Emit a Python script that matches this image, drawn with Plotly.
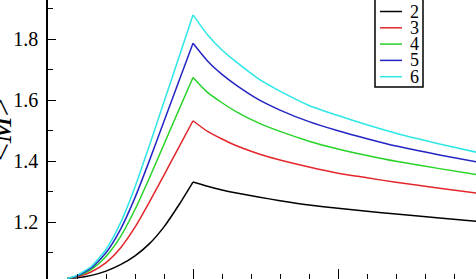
import plotly.graph_objects as go

# ---- data ----
series_names = ["2", "3", "4", "5", "6"]
series_colors = ["#000000", "#e3262b", "#27d327", "#2424c4", "#2ee6e6"]

x_rise = [0.135, 0.2, 0.3, 0.4, 0.5, 0.6, 0.7, 0.8, 0.9, 1.0]
rise_2 = [1.015, 1.017, 1.025, 1.039, 1.060, 1.089, 1.129, 1.184, 1.254, 1.331]
rise_3 = [1.015, 1.020, 1.037, 1.067, 1.115, 1.183, 1.266, 1.354, 1.443, 1.532]
rise_4 = [1.015, 1.022, 1.045, 1.087, 1.152, 1.241, 1.345, 1.455, 1.565, 1.674]
rise_5 = [1.015, 1.023, 1.050, 1.099, 1.176, 1.280, 1.402, 1.530, 1.658, 1.786]
rise_6 = [1.015, 1.025, 1.055, 1.110, 1.197, 1.315, 1.452, 1.594, 1.736, 1.879]

x_decay = [1.0, 1.1, 1.2, 1.3, 1.45, 1.6, 1.8, 2.0, 2.2, 2.4, 2.7, 3.0]
decay_2 = [1.331, 1.317, 1.305, 1.295, 1.282, 1.270, 1.256, 1.245, 1.235, 1.226, 1.213, 1.200]
decay_3 = [1.532, 1.497, 1.472, 1.450, 1.424, 1.403, 1.380, 1.360, 1.345, 1.330, 1.311, 1.292]
decay_4 = [1.674, 1.625, 1.591, 1.561, 1.525, 1.497, 1.465, 1.439, 1.418, 1.399, 1.375, 1.352]
decay_5 = [1.786, 1.728, 1.684, 1.648, 1.602, 1.567, 1.529, 1.499, 1.473, 1.449, 1.420, 1.393]
decay_6 = [1.879, 1.814, 1.764, 1.724, 1.670, 1.629, 1.582, 1.549, 1.519, 1.491, 1.456, 1.424]

rises = [rise_2, rise_3, rise_4, rise_5, rise_6]
decays = [decay_2, decay_3, decay_4, decay_5, decay_6]

y_tickvals = [1.2, 1.4, 1.6, 1.8]
y_ticktext = ["1.2", "1.4", "1.6", "1.8"]

# ---- layout constants (pixels) ----
W, H = 476, 279
ML = 48
PW = W - ML
FONT = "Liberation Serif"

fig = go.Figure()
for name, col, r, d in zip(series_names, series_colors, rises, decays):
    fig.add_trace(go.Scatter(x=x_rise, y=r, mode="lines", name=name,
                             line=dict(color=col, width=1.5, shape="spline", smoothing=0.6),
                             showlegend=False, hoverinfo="skip"))
    fig.add_trace(go.Scatter(x=x_decay, y=d, mode="lines", name=name,
                             line=dict(color=col, width=1.5, shape="spline", smoothing=0.6),
                             showlegend=False, hoverinfo="skip"))

def px_x(px):
    return (px - ML) / PW

def px_y(py):
    return 1 - py / H

# manual legend (box, samples, labels)
shapes = [dict(type="rect", xref="paper", yref="paper",
               x0=px_x(375), x1=px_x(423), y0=px_y(87), y1=px_y(-5),
               line=dict(color="black", width=1.5), fillcolor="white", layer="above")]
annotations = []
row_y0, row_dy = 11.5, 16.3
for i, (name, col) in enumerate(zip(series_names, series_colors)):
    yy = px_y(row_y0 + i * row_dy)
    shapes.append(dict(type="line", xref="paper", yref="paper",
                       x0=px_x(380), x1=px_x(402), y0=yy, y1=yy,
                       line=dict(color=col, width=1.5), layer="above"))
    annotations.append(dict(xref="paper", yref="paper", x=px_x(408), y=yy,
                            xanchor="left", yanchor="middle", text=name, showarrow=False,
                            font=dict(family=FONT, size=18, color="black")))

# y-axis title
annotations.append(dict(xref="paper", yref="paper", x=px_x(20), y=px_y(130),
                        xanchor="right", yanchor="middle", textangle=-90,
                        text="&lt;<i>M</i>&gt;", showarrow=False,
                        font=dict(family=FONT, size=32, color="black")))
# partially visible "1" tick label
annotations.append(dict(xref="paper", yref="y", x=px_x(43), y=1.0,
                        xanchor="right", yanchor="middle", text="1", showarrow=False,
                        font=dict(family=FONT, size=20, color="black")))

fig.update_layout(
    width=W, height=H,
    margin=dict(l=ML, r=0, t=0, b=0, pad=0, autoexpand=False),
    paper_bgcolor="white", plot_bgcolor="white",
    font=dict(family=FONT, color="black"),
    shapes=shapes, annotations=annotations, showlegend=False,
    xaxis=dict(range=[0, PW / 145.0], showline=False, showgrid=False, zeroline=False,
               showticklabels=False, ticks="inside", tickmode="linear", tick0=0, dtick=1,
               ticklen=10, tickwidth=1.2, tickcolor="black",
               minor=dict(ticks="inside", dtick=0.2, ticklen=5, tickwidth=1, tickcolor="black"),
               automargin=False),
    yaxis=dict(range=[1.8 - 240 / 305, 1.8 + 39 / 305], showline=True, linecolor="black",
               linewidth=1.5, showgrid=False, zeroline=False,
               tickmode="array", tickvals=y_tickvals, ticktext=y_ticktext,
               ticks="inside", ticklen=8, tickwidth=1.2, tickcolor="black",
               minor=dict(ticks="inside", tickmode="linear", tick0=1.0, dtick=0.1, ticklen=5,
                          tickwidth=1, tickcolor="black"),
               tickfont=dict(family=FONT, size=20, color="black"),
               ticklabelstandoff=4, automargin=False),
)

fig.write_html("out.html")
